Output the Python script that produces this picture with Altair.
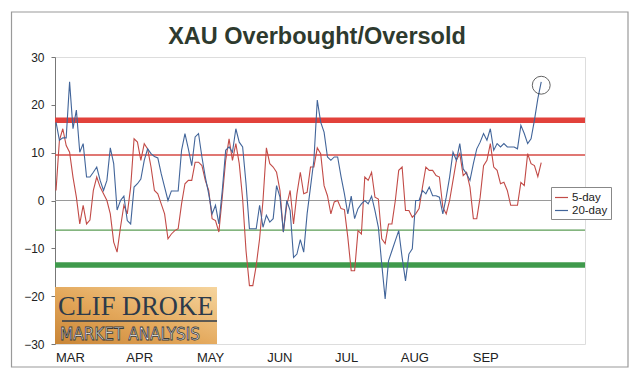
import altair as alt
import pandas as pd

# ---------------- data ----------------
title_text = "XAU Overbought/Oversold"
months = ["MAR", "APR", "MAY", "JUN", "JUL", "AUG", "SEP"]
month_pos = [4.1, 24.5, 45.4, 65.8, 85.5, 105.6, 126.5]
series_names = ["5-day", "20-day"]

five_day = [
    2.1, 12.6, 15.0, 11.5, 10.1, 4.9, 0.7, -4.9, -1.0, -4.9,
    -4.1, 2.1, 4.9, 2.8, 1.4, 0.0, -2.8, -8.7, -10.8, -5.6,
    -1.0, -2.8, 2.8, 12.9, 12.2, 8.4, 11.9, 10.8, 7.0, 2.1,
    1.4, -0.7, -2.8, -8.0, -7.0, -6.3, -5.9, -0.7, 3.5, 4.2,
    4.2, 8.0, 8.0, 7.3, 4.2, 2.1, -3.8, -4.2, -6.6, 0.7,
    8.4, 12.9, 8.4, 11.9, 7.7, 0.3, -10.5, -17.8, -17.8, -13.6,
    -8.0, 0.0, 11.0, 7.7, 7.0, 5.9, 2.1, -6.6, -1.0, 2.1,
    -4.9, 1.4, 5.9, 1.4, 1.7, 7.0, 7.0, 11.0, 9.8, 3.1,
    1.0, -2.8, -0.3, 0.0,
    -1.7, -1.9, -7.7, -14.7, -14.7, -6.3, -7.0, 4.9, 4.2, 5.9,
    0.7, 0.3, -8.0, -9.0, -4.9, -4.9, 0.0, 6.3, 7.0, -2.1,
    -2.1, -3.5, -2.8, -1.7, 2.8, 7.0, 6.3, 6.3, 5.2, 4.9,
    -1.4, -2.8, 0.0, 4.2, 8.4, 9.8, 5.2, 5.9, 2.8, -3.8,
    -3.8,
    0.7, 7.3, 8.4, 11.9, 7.0, 6.3, 3.5, 3.8, 2.1, -1.0,
    -1.0, -1.0, 3.8, 3.1, 9.8, 7.7, 7.3, 5.0, 7.9,
]

twenty_day = [
    16.4, 12.6, 13.1, 13.1, 24.8, 15.0, 18.9, 10.1, 11.9, 4.9,
    4.9, 5.9, 7.0, 4.2, 2.1, 4.2, 11.0, 7.7, -2.0, 0.0,
    0.9, -4.2, -4.9, 2.8, 3.5, 4.5, 8.4, 10.8, 9.8, 9.2,
    8.9, 5.6, 2.8, 0.0, 2.0, 2.0, 2.0, 10.5, 14.0, 10.8,
    7.3, 13.3, 14.0, 9.1, 4.9, 1.4, -2.8, -1.0, -4.9, 2.1,
    10.5, 11.2, 10.1, 15.0, 12.2, 11.2, 3.5, -5.9, -5.9, -5.9,
    -1.0, -5.6, -3.1, -4.5, -3.8, 3.1, 0.7, -6.6, 0.0, -2.1,
    -11.9, -11.2, -8.2, -10.8, -2.8, 2.8, 8.4, 21.0, 16.4, 14.3,
    9.1, 8.4, 9.1, 9.1,
    5.0, 1.4, -2.8, 0.9, -3.8, -1.7, -0.7, 0.0, -0.7, 0.9,
    -2.1, -5.6, -13.3, -20.6, -12.6, -10.5, -8.4, -6.3, -11.9, -16.8,
    -11.2, -10.1, 0.0, 0.0, 2.1, 1.4, 2.8, 1.0, 1.0, 0.7,
    -2.8, 0.7, 4.9, 10.1, 8.4, 11.9, 6.6, 5.6, 4.2, 7.7,
    10.8,
    12.2, 14.0, 12.6, 15.0, 10.5, 11.9, 11.2, 11.9, 11.2, 11.2,
    11.2, 10.8, 15.7, 14.0, 11.9, 12.9, 16.8, 21.3, 24.8,
]

# overbought / oversold reference levels: thick red, thin red, thin green, thick green
levels = [16.8, 9.5, -6.2, -13.5]
circle_day = [143]
circle_value = [24.1]

# ---------------- styling ----------------
FONT = "Liberation Sans"
RED_LINE = "#c24b47"
BLUE_LINE = "#42659a"

df_red = pd.DataFrame({"day": list(range(len(five_day))), "value": five_day, "series": series_names[0]})
df_blue = pd.DataFrame({"day": list(range(len(twenty_day))), "value": twenty_day, "series": series_names[1]})

# label expression for month labels (thresholds halfway between positions)
expr = f"'{months[-1]}'"
for i in range(len(months) - 2, -1, -1):
    mid = (month_pos[i] + month_pos[i + 1]) / 2
    expr = f"datum.value < {mid} ? '{months[i]}' : ({expr})"

x_enc = alt.X(
    "day:Q",
    scale=alt.Scale(domain=[-0.3, 155.9], nice=False, zero=False),
    axis=alt.Axis(values=month_pos, labelExpr=expr, ticks=False, domain=False, grid=False,
                  title=None, labelFontSize=13, labelPadding=7, labelFont=FONT,
                  labelColor="#222", labelFlush=False),
)
y_scale = alt.Scale(domain=[-30, 30], nice=False, zero=False)
y_enc = alt.Y(
    "value:Q",
    scale=y_scale,
    axis=alt.Axis(values=[-30, -20, -10, 0, 10, 20, 30], grid=False, tickSize=4,
                  tickColor="#777", domainColor="#777", labelFontSize=12, labelPadding=7,
                  labelFont=FONT, labelColor="#222", title=None),
)

color_enc = alt.Color(
    "series:N",
    scale=alt.Scale(domain=series_names, range=[RED_LINE, BLUE_LINE]),
    legend=alt.Legend(title=None, orient="none", legendX=496, legendY=130,
                      symbolType="stroke", symbolSize=170, symbolStrokeWidth=1.2,
                      labelFontSize=11.5, labelFont=FONT, labelColor="#222",
                      padding=3, strokeColor="#888", fillColor="white",
                      rowPadding=0, labelOffset=3),
)

one = pd.DataFrame({"a": [0]})

# outer frame (decoration)
frame = alt.Chart(one).mark_rect(fill="transparent", stroke="#9a9a9a", strokeWidth=1.2).encode(
    x=alt.value(-43.5), x2=alt.value(573), y=alt.value(-45), y2=alt.value(310)
)

# chart title drawn as text (so the outer frame does not push it away)
title_mark = alt.Chart(one).mark_text(
    text=title_text, font=FONT, fontSize=23.5, fontWeight="bold", color="#2e3a2e",
    align="center", baseline="alphabetic"
).encode(x=alt.value(262), y=alt.value(-13))

# logo (decoration)
logo_bg = alt.Chart(one).mark_rect(
    color=alt.Gradient(gradient="linear",
                       stops=[alt.GradientStop(color="#c98536", offset=0),
                              alt.GradientStop(color="#e3a75a", offset=0.45),
                              alt.GradientStop(color="#f6d59e", offset=1)],
                       x1=0, x2=1, y1=1, y2=0)
).encode(x=alt.value(0), x2=alt.value(162), y=alt.value(230), y2=alt.value(287))
logo_t1 = alt.Chart(one).mark_text(
    text="CLIF DROKE", font="Liberation Serif", fontSize=26.5, color="#2c3a4a",
    align="left", baseline="alphabetic"
).encode(x=alt.value(3), y=alt.value(258))
logo_rule = alt.Chart(one).mark_rule(color="#2c3a4a", strokeWidth=1.5).encode(
    x=alt.value(7), x2=alt.value(162), y=alt.value(264)
)
logo_t2 = alt.Chart(one).mark_text(
    text="MARKET ANALYSIS", font="Liberation Sans Narrow, DejaVu Sans Condensed, sans-serif",
    fontSize=17, fill="white", stroke="#3a3a3a", strokeWidth=0.8,
    align="left", baseline="alphabetic"
).encode(x=alt.value(5), y=alt.value(283))

def level_rule(v, color, width):
    return alt.Chart(pd.DataFrame({"value": [v]})).mark_rule(color=color, strokeWidth=width).encode(
        y=alt.Y("value:Q", scale=y_scale)
    )

rule_hi = level_rule(levels[0], "#e2413b", 5.5)
rule_hi2 = level_rule(levels[1], "#d64a45", 1.4)
rule_lo2 = level_rule(levels[2], "#5b9c55", 1.4)
rule_lo = level_rule(levels[3], "#3f9a4c", 5.5)
rule_zero = level_rule(0, "#9a9a9a", 1.2)

line_red = alt.Chart(df_red).mark_line(strokeWidth=1.1).encode(x=x_enc, y=y_enc, color=color_enc)
line_blue = alt.Chart(df_blue).mark_line(strokeWidth=1.1).encode(x=x_enc, y=y_enc, color=color_enc)

circle = alt.Chart(pd.DataFrame({"day": circle_day, "value": circle_value})).mark_point(
    shape="circle", size=320, filled=False, color="#222", strokeWidth=1
).encode(x="day:Q", y="value:Q")

chart = alt.layer(
    frame, title_mark, logo_bg, logo_t1, logo_rule, logo_t2,
    rule_zero, rule_hi, rule_hi2, rule_lo2, rule_lo,
    line_red, line_blue, circle,
).properties(
    width=530, height=287,
    autosize="none",
    padding={"left": 47, "top": 49, "right": 46, "bottom": 25},
).configure_view(stroke="#8a8a8a", strokeWidth=1).configure(background="white")

chart.save("out.html", embed_options={"renderer": "svg", "actions": False})
